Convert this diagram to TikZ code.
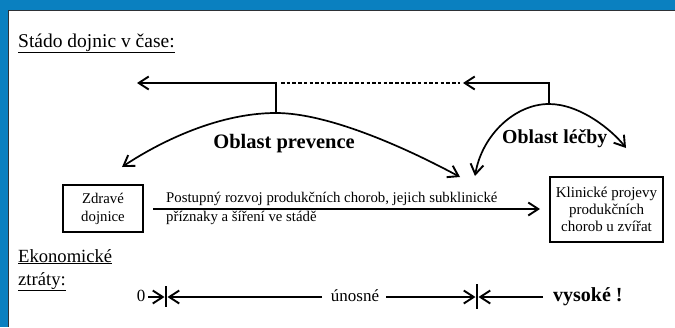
\documentclass[tikz,border=0pt]{standalone}
\usepackage{fontspec}
\setmainfont{Liberation Serif}
\usetikzlibrary{arrows.meta}
\definecolor{frameblue}{HTML}{0A80C0}
\definecolor{framedark}{HTML}{2E3236}
\tikzset{
  ln/.style={line width=1.7pt, line cap=butt},
  tipx/.tip={Straight Barb[length=10pt,width=13pt,line width=1.9pt]},
  arr/.style={ln, -tipx},
  darr/.style={ln, tipx-tipx},
  boxn/.style={draw, line width=1.7pt, align=center, inner sep=0pt},
  body/.style={font=\fontsize{14.8}{18}\selectfont},
  head/.style={font=\fontsize{19.5}{23}\selectfont, anchor=base west, inner sep=0pt},
  head2/.style={font=\fontsize{18.6}{23}\selectfont, anchor=base west, inner sep=0pt},
  big/.style={font=\fontsize{20.5}{24}\selectfont\bfseries, anchor=base, inner sep=0pt},
  txt/.style={body, anchor=base west, inner sep=0pt},
}
\begin{document}
\begin{tikzpicture}[x=1pt,y=-1pt]
\useasboundingbox (0,0) rectangle (675,327);
% frame
\fill[white] (0,0) rectangle (675,327);
\fill[frameblue] (0,0) rectangle (675,9.5);
\fill[frameblue] (0,0) rectangle (7.5,327);
\draw[framedark, line width=1.6pt] (8.3,327) -- (8.3,10.3) -- (675,10.3);

% headings
\node[head] (title) at (18,47) {\underline{Stádo dojnic v čase:}};
\node[head2] (eko) at (18,262) {\underline{Ekonomické}};
\node[head2] (ztr) at (18,285) {\underline{ztráty:}};

% boxes
\node[boxn, body, minimum width=80pt, minimum height=47pt] (zd) at (103,208.5) {Zdravé\\dojnice};
\node[boxn, font=\fontsize{15}{17}\selectfont, minimum width=113pt, minimum height=65pt] (kl) at (606.5,209.5) {Klinické projevy\\produkčních\\chorob u zvířat};

% main arrow
\coordinate (ma) at (153,209);
\coordinate (mb) at (540,209);
\draw[arr] (ma) -- (mb);
\node[txt] (t1) at (166,202) {Postupný rozvoj produkčních chorob, jejich subklinické};
\node[txt] (t2) at (166,221) {příznaky a šíření ve stádě};

% arcs
\coordinate (pv) at (276,113);
\coordinate (pvl) at (122,167);
\coordinate (pvr) at (460,177);
\draw[darr] (pvl) .. controls (155,145) and (215,113) .. (pv) .. controls (330,113) and (410,150) .. (pvr);
\node[big] (op) at (284,148) {Oblast prevence};

\coordinate (lv) at (549,104);
\coordinate (lvl) at (475,176);
\coordinate (lvr) at (626,148);
\draw[darr] (lvl) .. controls (482,135) and (515,104) .. (lv) .. controls (580,104) and (612,130) .. (lvr);
\node[big, font=\fontsize{19.8}{24}\selectfont\bfseries, anchor=base west] (ol) at (502,143) {Oblast léčby};

% top connectors
\coordinate (ta) at (276,83);
\coordinate (tb) at (137,83);
\draw[arr] (pv) -- (ta) -- (tb);
\coordinate (da) at (281,83);
\coordinate (db) at (460,83);
\draw[line width=1.3pt, dash pattern=on 3.5pt off 2.2pt] (da) -- (db);
\coordinate (tc) at (549,83);
\coordinate (td) at (463,83);
\draw[arr] (lv) -- (tc) -- (td);

% economic axis
\node[font=\fontsize{17}{20}\selectfont, anchor=base, inner sep=0pt] (zero) at (141,301) {0};
\coordinate (b1t) at (166,286);
\coordinate (b1b) at (166,307);
\draw[ln] (b1t) -- (b1b);
\coordinate (z1) at (148,297);
\coordinate (z2) at (164.5,297);
\draw[arr] (z1) -- (z2);
\node[font=\fontsize{17}{20}\selectfont, anchor=base, inner sep=0pt] (un) at (355,301) {únosné};
\coordinate (u1) at (322,297);
\coordinate (u2) at (167.5,297);
\draw[arr] (u1) -- (u2);
\coordinate (u3) at (386,297);
\coordinate (u4) at (475.5,297);
\draw[arr] (u3) -- (u4);
\coordinate (b2t) at (477,284);
\coordinate (b2b) at (477,309);
\draw[ln] (b2t) -- (b2b);
\coordinate (v1) at (543,297);
\coordinate (v2) at (478.5,297);
\draw[arr] (v1) -- (v2);
\node[font=\fontsize{20}{24}\selectfont\bfseries, anchor=base west, inner sep=0pt] (vy) at (553,301) {vysoké !};
\end{tikzpicture}
\end{document}
